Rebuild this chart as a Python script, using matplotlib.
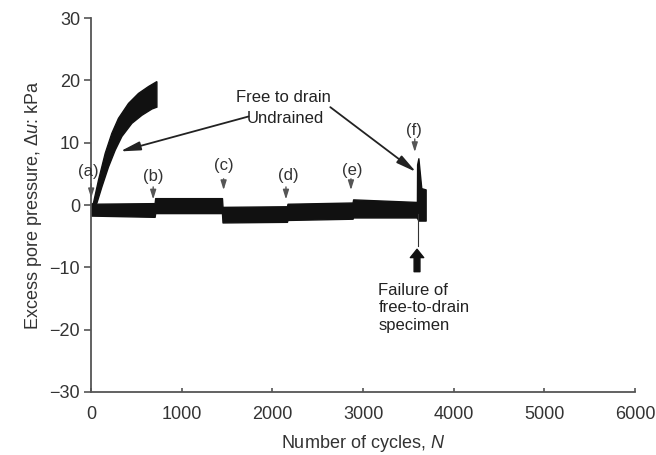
import matplotlib
matplotlib.use("Agg")
import matplotlib.pyplot as plt

plt.rcParams['font.family'] = ['Liberation Sans', 'DejaVu Sans']
plt.rcParams['mathtext.fontset'] = 'custom'
plt.rcParams['mathtext.rm'] = 'Liberation Sans'
plt.rcParams['mathtext.it'] = 'Liberation Sans:italic'

# undrained specimen: envelope of the cyclic trace (cycles, kPa)
undr_upper_n = [0, 25, 81, 155, 228, 301, 412, 522, 632, 725]
undr_upper = [0.0, 0.3, 4.0, 8.3, 11.5, 13.9, 16.3, 17.9, 19.0, 19.8]
undr_lower_n = [0, 63, 118, 191, 265, 339, 449, 560, 670, 725]
undr_lower = [-0.5, 0.3, 2.9, 6.1, 8.8, 11.0, 13.1, 14.4, 15.4, 15.7]

# free-to-drain specimen: envelope of the cyclic trace
drain_n = [0, 700, 706, 1443, 1449, 2160, 2166, 2884, 2890, 3576,
           3594, 3596, 3610, 3640, 3642, 3690]
drain_hi = [0.2, 0.3, 1.1, 1.1, -0.3, -0.2, 0.2, 0.4, 0.9, 0.5,
            0.5, 6.5, 7.5, 3.0, 2.7, 2.5]
drain_lo = [-1.7, -1.9, -1.3, -1.3, -2.8, -2.7, -2.4, -2.2, -2.0, -2.0,
            -2.0, -2.1, -2.5, -2.5, -2.5, -2.5]
# thin downward spike at failure
spike_n = [3605, 3605]
spike_u = [-1.5, -6.5]

stage_labels = ['(a)', '(b)', '(c)', '(d)', '(e)', '(f)']
stage_n = [0, 684, 1461, 2149, 2866, 3570]
stage_text_n = [-33, 688, 1468, 2174, 2881, 3565]
stage_text_u = [5.3, 4.5, 6.3, 4.7, 5.6, 12.0]
stage_arrow_top = [3.4, 2.9, 4.2, 2.9, 4.2, 10.6]
stage_arrow_tip = [1.1, 0.9, 2.4, 0.9, 2.4, 8.5]

fig = plt.figure(figsize=(6.56, 4.55), dpi=100)
ax = fig.add_axes([0.139, 0.1385, 0.829, 0.8219])

# closed polygon for the undrained band
poly_n = undr_upper_n + undr_lower_n[::-1]
poly_u = undr_upper + undr_lower[::-1]
ax.fill(poly_n, poly_u, color='#111111', lw=1.0, ec='#111111')
ax.fill_between(drain_n, drain_hi, drain_lo, color='#111111', lw=1.0,
                ec='#111111')
ax.plot(spike_n, spike_u, color='#333333', lw=0.8)

ax.set_xlim(0, 6000)
ax.set_ylim(-30, 30)
ax.set_xticks(range(0, 6001, 1000))
ax.set_yticks(range(-30, 31, 10))
ax.set_yticklabels([str(v).replace('-', '\u2212') for v in range(-30, 31, 10)])
for s in ['top', 'right']:
    ax.spines[s].set_visible(False)
for s in ['left', 'bottom']:
    ax.spines[s].set_color('#555555')
    ax.spines[s].set_linewidth(1.3)
ax.tick_params(axis='y', direction='out', length=5, width=1.2,
               color='#555555', labelsize=13, labelcolor='#333333', pad=3)
ax.tick_params(axis='x', direction='in', length=3, width=1.2,
               color='#555555', labelsize=13, labelcolor='#333333', pad=10)
ax.set_xlabel('Number of cycles, $N$', fontsize=13, color='#333333',
              labelpad=7)
ax.set_ylabel('Excess pore pressure, $\\Delta u$: kPa', fontsize=13,
              color='#333333', labelpad=4)

for lab, n, tn, tu, at, ap in zip(stage_labels, stage_n, stage_text_n,
                                  stage_text_u, stage_arrow_top,
                                  stage_arrow_tip):
    ax.text(tn, tu, lab, ha='center', va='center', fontsize=12,
            color='#333333')
    ax.annotate('', xy=(n, ap), xytext=(n, at),
                arrowprops=dict(arrowstyle='-|>,head_length=0.7,head_width=0.22',
                                color='#555555', lw=1.0, mutation_scale=8,
                                shrinkA=0, shrinkB=0))

ax.text(2119, 17.2, 'Free to drain', ha='center', va='center',
        fontsize=12, color='#222222')
ax.text(2141, 13.8, 'Undrained', ha='center', va='center',
        fontsize=12, color='#222222')
ax.annotate('', xy=(320, 8.6), xytext=(1736, 14.2),
            arrowprops=dict(arrowstyle='-|>,head_length=1.0,head_width=0.22',
                            color='#222222', lw=1.3, mutation_scale=12,
                            shrinkA=0, shrinkB=0))
ax.annotate('', xy=(3584, 5.3), xytext=(2638, 15.7),
            arrowprops=dict(arrowstyle='-|>,head_length=1.0,head_width=0.22',
                            color='#222222', lw=1.3, mutation_scale=12,
                            shrinkA=0, shrinkB=0))

ax.annotate('', xy=(3595, -7.1), xytext=(3595, -10.7),
            arrowprops=dict(arrowstyle='simple,head_length=0.5,head_width=0.8,tail_width=0.35',
                            color='#111111', mutation_scale=12,
                            shrinkA=0, shrinkB=0))
ax.text(3168, -12.5, 'Failure of\nfree-to-drain\nspecimen', ha='left',
        va='top', fontsize=12, color='#222222', linespacing=1.2)

fig.savefig('out.png', dpi=100)
